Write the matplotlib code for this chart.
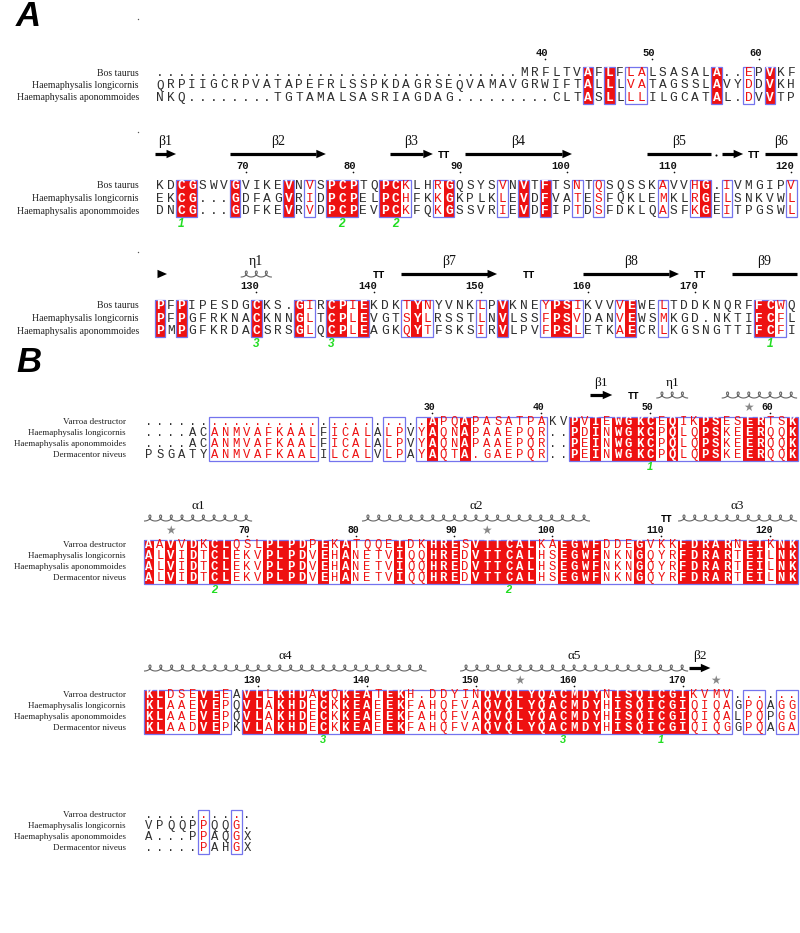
import numpy as np
import matplotlib
matplotlib.use("Agg")
import matplotlib.pyplot as plt
from matplotlib.patches import Rectangle, Polygon
from collections import Counter

# ---------------- panel A data ----------------
names_a = ["Bos taurus", "Haemaphysalis longicornis", "Haemaphysalis aponommoides"]

seq_a1 = ["." * 34 + "MRFLTVAFLFLALSASALA..EPVKF",
          "QRPIIGCRPVATAPEFRLSSPKDAGRSEQVAMAVGRWIFTALLLVATAGSSLAVYDDVKH",
          "NKQ" + "." * 8 + "TGTAMALSASRIAGDAG" + "." * 9 + "CLTASLLLLILGCATAL.DVVTP"]
seq_a2 = ["KDCGSWVGVIKEVNVSPCPTQPCKLHRGQSYSVNVTFTSNTQSQSSKAVVHG.IVMGIPV",
          "EKCG...GDFAGVRIDPCPELPCHFKKGKPLKLEVDFVATESFQKLEMKLRGELSNKVWL",
          "DNCG...GDFKEVRVDPCPEVPCKFQKGSSVRIEVDFIPTDSFDKLQASFKGEITPGSWL"]
seq_a3 = ["PFPIPESDGCKS.GIRCPIEKDKTYNYVNKLPVKNEYPSIKVVVEWELTDDKNQRFFCWQ",
          "PFPGFRKNACKNNGLTCPLEVGTSYLRSSTLNVLSSFPSVDANVEWSMKGD.NKTIFCFL",
          "PMPGFKRDACSRSGLQCPLEAGKQYTFSKSIRVLPVFPSLETKAECRLKGSNGTTIFCFI"]
blocks_a = [seq_a1, seq_a2, seq_a3]
starts_a = [1, 61, 121]

ident_a = [41, 43, 53, 58, 63, 64, 68, 73, 77, 78, 79, 82, 83, 88, 95, 97, 112,
           121, 123, 130, 134, 137, 138, 140, 145, 153, 158, 159, 165, 177, 178]
simil_a = [45, 46, 56, 75, 84, 87, 93, 100, 102, 108, 111, 114, 120,
           135, 139, 144, 146, 151, 157, 160, 164, 168, 179]

numbers_a = [(40, 37), (50, 47), (60, 57), (70, 69), (80, 79), (90, 89), (100, 99),
             (110, 109), (120, 120), (130, 130), (140, 141), (150, 151), (160, 161), (170, 171)]
bonds_a = [(63, "1"), (78, "2"), (83, "2"), (130, "3"), (137, "3"), (178, "1")]

ss_a = [("arrow", 61, 62, "β1"), ("arrow", 68, 76, "β2"), ("arrow", 83, 86, "β3"),
        ("TT", 87, 88, ""), ("arrow", 90, 99, "β4"), ("line", 107, 112, "β5"),
        ("dot", 113, 113, ""), ("arrow", 114, 115, ""), ("TT", 116, 117, ""),
        ("line", 118, 120, "β6"), ("head", 121, 121, ""), ("coil", 129, 131, "η1"),
        ("TT", 141, 142, ""), ("arrow", 144, 152, "β7"), ("TT", 155, 156, ""),
        ("arrow", 161, 169, "β8"), ("TT", 171, 172, ""), ("line", 175, 180, "β9")]

# ---------------- panel B data ----------------
names_b = ["Varroa destructor", "Haemaphysalis longicornis",
           "Haemaphysalis aponommoides", "Dermacentor niveus"]

seq_b1 = ["." * 26 + "APQAPASATPAKVPVIEWGKCEQIKPSESERTSK",
          "....ACANMVAFKAALFICALALPVYAQNAPAAEPQR..PDINWGKCPQLQPSKEERQQK",
          "....ACANMVAFKAALFICALALPVYAQNAPAAEPQR..PEINWGKCPQLQPSKEERQQK",
          "PSGATYANMVAFKAALILCALVLPAYAQTA.GAEPQR..PEINWGKCPQLQPSKEERQQK"]
seq_b2 = ["AAVVDKCLQSLPLPDPEKATQQEIDKHRESVTTCALKAEGWFDDEGVKKFDRARNEIKNK",
          "ALVIDTCLEKVPLPDVEHANETVIQQHREDVTTCALHSEGWFNKNGQYRFDRARTEILNK",
          "ALVIDTCLEKVPLPDVEHANETVIQQHREDVTTCALHSEGWFNKNGQYRFDRARTEILNK",
          "ALVIDTCLEKVPLPDVEHANETVIQQHREDVTTCALHSEGWFNKNGQYRFDRARTEILNK"]
seq_b3 = ["KLDSEVEEAVLLKHDACQKEATEKH.DDYINQVQLYQACMDYNISQICGIKVMV......",
          "KLAAEVEPQVLAKHDECKKEAEEKFAHQFVAQVQLYQACMDYHISQICGIQIQAGPQAGG",
          "KLAAEVEPQVLAKHDECKKEAEEKFAHQFVAQVQLYQACMDYHISQICGIQIQALPQPGG",
          "KLAADVEPKVLAKHDECKKEAEEKFAHQFVAQVQLYQACMDYHISQICGIQIQGGPQAGA"]
seq_b4 = ["..........",
          "VPQQPPQQG.",
          "A...PPAQGX",
          ".....PAHGX"]
blocks_b = [seq_b1, seq_b2, seq_b3, seq_b4]
starts_b = [1, 61, 121, 181]

numbers_b = [(30, 27), (40, 37), (50, 47), (60, 58), (70, 70), (80, 80), (90, 89),
             (100, 98), (110, 108), (120, 118), (130, 131), (140, 141), (150, 151),
             (160, 160), (170, 170)]
stars_b = [56, 63, 92, 155, 173]
bonds_b = [(47, "1"), (67, "2"), (94, "2"), (137, "3"), (159, "3"), (168, "1")]

ss_b = [("arrow", 42, 43, "β1"), ("TT", 45, 46, ""), ("coil", 48, 50, "η1"),
        ("coil", 54, 60, ""), ("coil", 61, 70, "α1"), ("coil", 81, 101, "α2"),
        ("TT", 108, 109, ""), ("coil", 110, 120, "α3"), ("coil", 121, 146, "α4"),
        ("coil", 150, 170, "α5"), ("arrow", 171, 172, "β2")]

for blk in blocks_a + blocks_b:
    assert len(set(len(s) for s in blk)) == 1, [len(s) for s in blk]

# ---------------- drawing ----------------
RED = "#ee1111"
BLUE = "#7474ee"
INK = "#2e2e2e"
MONO = "Liberation Mono"
SERIF = "Liberation Serif"

fig = plt.figure(figsize=(8, 9.33), dpi=100)
ax = fig.add_axes([0, 0, 1, 1])
ax.set_xlim(0, 800)
ax.set_ylim(933, 0)
ax.axis("off")


def runs(cols):
    cols = sorted(cols)
    out = []
    for c in cols:
        if out and c == out[-1][1] + 1:
            out[-1][1] = c
        else:
            out.append([c, c])
    return out


def classify_b(block):
    solid, red = [], []
    n = len(block)
    groups = ["ILVM", "FYW", "KRH", "DE", "NQ", "ST", "AG"]
    for i in range(len(block[0])):
        col = [s[i] for s in block]
        res = [c for c in col if c.isalpha() and c != "X"]
        if not res:
            continue
        if len(res) == n and len(set(res)) == 1:
            solid.append(i)
            continue
        best = Counter(res).most_common(1)[0][1]
        for g in groups:
            best = max(best, sum(c in g for c in res))
        if best / n >= 0.7:
            red.append(i)
    return solid, red


def draw_block(seqs, names, y0, x0, dx, dy, solid, red, fs, name_x, name_fs):
    n = len(seqs)
    for a, b in runs(solid):
        ax.add_patch(Rectangle((x0 + a * dx - dx / 2, y0 - dy / 2), (b - a + 1) * dx, n * dy,
                               fc=RED, ec="none", zorder=1))
    for a, b in runs(set(solid) | set(red)):
        ax.add_patch(Rectangle((x0 + a * dx - dx / 2, y0 - dy / 2), (b - a + 1) * dx, n * dy,
                               fill=False, ec=BLUE, lw=0.9, zorder=2))
    for r, s in enumerate(seqs):
        y = y0 + r * dy
        ax.text(name_x, y, names[r], ha="right", va="center", family=SERIF,
                fontsize=name_fs, color="#222")
        for i, ch in enumerate(s):
            if i in solid:
                col, wt = "white", "bold"
            elif i in red:
                col, wt = RED, "normal"
            else:
                col, wt = INK, "normal"
            ax.text(x0 + i * dx, y, ch, ha="center", va="center", family=MONO,
                    fontsize=fs, color=col, weight=wt, zorder=3)


def draw_number(num, x, y, fs):
    half = 0.6 * fs * 100 / 72 / 2
    ax.text(x + half, y, str(num), ha="right", va="center", family=MONO,
            fontsize=fs, weight="bold", color="#111")
    ax.plot([x], [y + 6], marker="o", ms=1.2, color="#111", mew=0)


def draw_coil(x1, x2, y, pitch):
    n = max(1, int(round((x2 - x1) / pitch)))
    t = np.linspace(np.pi, np.pi + 2 * np.pi * n, 80 * n)
    a = (x2 - x1) / (2 * np.pi * n)
    b = 1.9 * a
    X = x1 + a * (t - np.pi) - b * np.sin(t)
    Y = y - 3.0 * np.cos(t)
    ax.plot(X, Y, color="#666", lw=0.8)


def draw_ss(elems, colx, dx, y_ss, y_lab, lab_fs, tt_fs):
    for kind, c1, c2, lab in elems:
        xa, xb = colx(c1) - dx / 2, colx(c2) + dx / 2
        if kind in ("arrow", "head"):
            hl = 9.5
            if xb - hl > xa and kind == "arrow":
                ax.plot([xa, xb - hl], [y_ss, y_ss], color="black", lw=2.3,
                        solid_capstyle="butt")
            if kind == "head":
                xb = colx(c1) + 7
            ax.add_patch(Polygon([(xb - hl, y_ss - 4.2), (xb, y_ss), (xb - hl, y_ss + 4.2)],
                                 closed=True, fc="black", ec="none"))
        elif kind == "line":
            ax.plot([xa, xb], [y_ss, y_ss], color="black", lw=2.3, solid_capstyle="butt")
        elif kind == "coil":
            draw_coil(xa + 1, xb - 1, y_ss, dx)
        elif kind == "TT":
            ax.text((colx(c1) + colx(c2)) / 2, y_ss + 1, "TT", ha="center", va="center",
                    family=MONO, fontsize=tt_fs, weight="bold", color="black")
        elif kind == "dot":
            ax.plot([colx(c1)], [y_ss + 1], marker="o", ms=1.5, color="black", mew=0)
        if lab:
            ax.text((colx(c1) + colx(c2)) / 2, y_lab, lab, ha="center", va="center",
                    family=SERIF, fontsize=lab_fs, color="#111")


# panel letters
ax.text(16, 17, "A", fontsize=25, weight="bold", style="italic", family="Liberation Sans",
        ha="left", va="center")
ax.text(16, 362, "B", fontsize=25, weight="bold", style="italic", family="Liberation Sans",
        ha="left", va="center")

# ---- panel A ----
XA, DXA, DYA = 160, 10.7, 12.5
rows_a = [73, 186, 306]
for blk, st, y0 in zip(blocks_a, starts_a, rows_a):
    end = st + len(blk[0]) - 1
    sol = [c - st for c in ident_a if st <= c <= end]
    red = [c - st for c in simil_a if st <= c <= end]
    draw_block(blk, names_a, y0, XA, DXA, DYA, sol, red, 9.3, 139, 7.0)
    ax.plot([138], [y0 - 54], marker="o", ms=1.0, color="#555", mew=0)

    def colx(c, st=st):
        return XA + (c - st) * DXA

    for num, c in numbers_a:
        if st <= c <= end:
            draw_number(num, colx(c), y0 - 20, 7.5)
    for c, lab in bonds_a:
        if st <= c <= end:
            ax.text(colx(c), y0 + 2 * DYA + 13, lab, ha="center", va="center", color="#22dd22",
                    fontsize=8.5, weight="bold", style="italic", family="Liberation Sans")
    elems = [e for e in ss_a if st <= e[1] <= end]
    draw_ss(elems, colx, DXA, y0 - 32, y0 - 44, 10, 7.5)

# ---- panel B ----
XB, DXB, DYB = 149, 10.9, 11.0
rows_b = [422, 545, 695, 815]
for blk, st, y0 in zip(blocks_b, starts_b, rows_b):
    end = st + len(blk[0]) - 1
    sol, red = classify_b(blk)
    draw_block(blk, names_b, y0, XB, DXB, DYB, sol, red, 8.8, 126, 6.5)

    def colx(c, st=st):
        return XB + (c - st) * DXB

    for num, c in numbers_b:
        if st <= c <= end:
            draw_number(num, colx(c), y0 - 15, 7.0)
    for c in stars_b:
        if st <= c <= end:
            ax.text(colx(c), y0 - 15, "★", ha="center", va="center", color="#888",
                    fontsize=8.5, family="DejaVu Sans")
    for c, lab in bonds_b:
        if st <= c <= end:
            ax.text(colx(c), y0 + 3 * DYB + 12, lab, ha="center", va="center", color="#22dd22",
                    fontsize=8, weight="bold", style="italic", family="Liberation Sans")
    elems = [e for e in ss_b if st <= e[1] <= end]
    draw_ss(elems, colx, DXB, y0 - 27, y0 - 39, 9.5, 7.0)

fig.savefig("out.png", dpi=100)
